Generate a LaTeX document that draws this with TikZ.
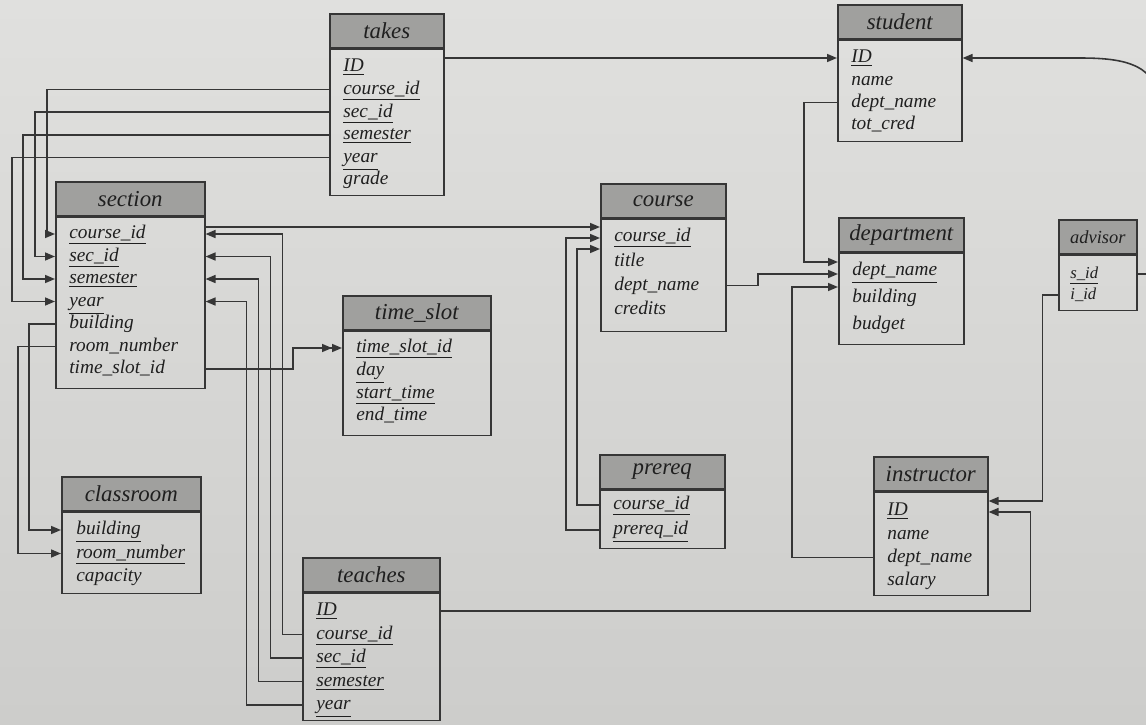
\documentclass[tikz,border=0pt]{standalone}
\usepackage{fontspec}
\setmainfont{Liberation Serif}
\usetikzlibrary{arrows.meta, calc}
\definecolor{linecol}{HTML}{363636}
\definecolor{headcol}{HTML}{A0A09E}
\definecolor{papertop}{HTML}{E0E0DE}
\definecolor{paperbot}{HTML}{CDCDCB}
\tikzset{
    tabtitle/.style={draw=linecol, fill=headcol, line width=0.9pt, anchor=north west, minimum height=0.68cm, inner sep=0pt, font=\fontsize{13}{15}\selectfont\itshape, text=black!88},
    tabbody/.style={draw=linecol, line width=0.9pt, anchor=north west, inner sep=0pt},
    field/.style={anchor=west, inner sep=0pt, text height=1.7ex, text depth=0.5ex, font=\fontsize{11}{13}\selectfont\itshape, text=black!88},
    fk/.style={draw=linecol, line width=0.9pt, -{Triangle[length=2mm, width=1.6mm]}},
    fkk/.style={draw=linecol, line width=0.9pt, -{Triangle[length=2mm, width=1.6mm] Triangle[length=2mm, width=1.6mm]}}
}

\begin{document}
\begin{tikzpicture}[x=0.02cm, y=-0.02cm]
    \shade[top color=papertop, bottom color=paperbot] (0,0) rectangle (1146,724);
    \clip (0,0) rectangle (1146,724);

    % takes
    \begin{scope}[shift={(329,13)}]
        \node[tabtitle, minimum width=2.28cm] (takes-t) at (0,0) {takes};
        \node[tabbody, minimum width=2.28cm, minimum height=2.92cm] (takes) at (takes-t.south west) {};
        \foreach \f/\k [count=\i] in {ID/1, course\_id/1, sec\_id/1, semester/1, year/1, grade/0}
            \node[field] (takes-\i) at (14, {54+(\i-1)*22.6}) {\ifnum\k=1 \underline{\f}\else\f\fi};
    \end{scope}

    % student
    \begin{scope}[shift={(837,4)}]
        \node[tabtitle, minimum width=2.48cm] (student-t) at (0,0) {student};
        \node[tabbody, minimum width=2.48cm, minimum height=2.02cm] (student) at (student-t.south west) {};
        \foreach \f/\k [count=\i] in {ID/1, name/0, dept\_name/0, tot\_cred/0}
            \node[field] (student-\i) at (14, {54+(\i-1)*22.3}) {\ifnum\k=1 \underline{\f}\else\f\fi};
    \end{scope}

    % section
    \begin{scope}[shift={(55,181)}]
        \node[tabtitle, minimum width=2.98cm] (section-t) at (0,0) {section};
        \node[tabbody, minimum width=2.98cm, minimum height=3.42cm] (section) at (section-t.south west) {};
        \foreach \f/\k [count=\i] in {course\_id/1, sec\_id/1, semester/1, year/1, building/0, room\_number/0, time\_slot\_id/0}
            \node[field] (section-\i) at (14, {53+(\i-1)*22.5}) {\ifnum\k=1 \underline{\f}\else\f\fi};
    \end{scope}

    % course
    \begin{scope}[shift={(600,183)}]
        \node[tabtitle, minimum width=2.5cm] (course-t) at (0,0) {course};
        \node[tabbody, minimum width=2.5cm, minimum height=2.24cm] (course) at (course-t.south west) {};
        \foreach \f/\k [count=\i] in {course\_id/1, title/0, dept\_name/0, credits/0}
            \node[field] (course-\i) at (14, {54+(\i-1)*24.3}) {\ifnum\k=1 \underline{\f}\else\f\fi};
    \end{scope}

    % department
    \begin{scope}[shift={(838,217)}]
        \node[tabtitle, minimum width=2.5cm] (department-t) at (0,0) {department};
        \node[tabbody, minimum width=2.5cm, minimum height=1.82cm] (department) at (department-t.south west) {};
        \foreach \f/\k [count=\i] in {dept\_name/1, building/0, budget/0}
            \node[field] (department-\i) at (14, {54+(\i-1)*27}) {\ifnum\k=1 \underline{\f}\else\f\fi};
    \end{scope}

    % advisor
    \begin{scope}[shift={(1058,219)}]
        \node[tabtitle, minimum width=1.56cm, font=\fontsize{10.5}{12}\selectfont\itshape] (advisor-t) at (0,0) {advisor};
        \node[tabbody, minimum width=1.56cm, minimum height=1.1cm] (advisor) at (advisor-t.south west) {};
        \foreach \f/\k [count=\i] in {s\_id/1, i\_id/0}
            \node[field, font=\fontsize{9.5}{11}\selectfont\itshape] (advisor-\i) at (12, {55+(\i-1)*21}) {\ifnum\k=1 \underline{\f}\else\f\fi};
    \end{scope}

    % time_slot
    \begin{scope}[shift={(342,295)}]
        \node[tabtitle, minimum width=2.96cm] (timeslot-t) at (0,0) {time\_slot};
        \node[tabbody, minimum width=2.96cm, minimum height=2.08cm] (timeslot) at (timeslot-t.south west) {};
        \foreach \f/\k [count=\i] in {time\_slot\_id/1, day/1, start\_time/1, end\_time/0}
            \node[field] (timeslot-\i) at (14, {53+(\i-1)*22.7}) {\ifnum\k=1 \underline{\f}\else\f\fi};
    \end{scope}

    % classroom
    \begin{scope}[shift={(61,476)}]
        \node[tabtitle, minimum width=2.78cm] (classroom-t) at (0,0) {classroom};
        \node[tabbody, minimum width=2.78cm, minimum height=1.62cm] (classroom) at (classroom-t.south west) {};
        \foreach \f/\k [count=\i] in {building/1, room\_number/1, capacity/0}
            \node[field] (classroom-\i) at (15, {54+(\i-1)*23.5}) {\ifnum\k=1 \underline{\f}\else\f\fi};
    \end{scope}

    % prereq
    \begin{scope}[shift={(599,454)}]
        \node[tabtitle, minimum width=2.5cm] (prereq-t) at (0,0) {prereq};
        \node[tabbody, minimum width=2.5cm, minimum height=1.16cm] (prereq) at (prereq-t.south west) {};
        \foreach \f/\k [count=\i] in {course\_id/1, prereq\_id/1}
            \node[field] (prereq-\i) at (14, {51+(\i-1)*25}) {\ifnum\k=1 \underline{\f}\else\f\fi};
    \end{scope}

    % instructor
    \begin{scope}[shift={(873,456)}]
        \node[tabtitle, minimum width=2.28cm] (instructor-t) at (0,0) {instructor};
        \node[tabbody, minimum width=2.28cm, minimum height=2.06cm] (instructor) at (instructor-t.south west) {};
        \foreach \f/\k [count=\i] in {ID/1, name/0, dept\_name/0, salary/0}
            \node[field] (instructor-\i) at (14, {55+(\i-1)*23.3}) {\ifnum\k=1 \underline{\f}\else\f\fi};
    \end{scope}

    % teaches
    \begin{scope}[shift={(302,557)}]
        \node[tabtitle, minimum width=2.74cm] (teaches-t) at (0,0) {teaches};
        \node[tabbody, minimum width=2.74cm, minimum height=2.54cm] (teaches) at (teaches-t.south west) {};
        \foreach \f/\k [count=\i] in {ID/1, course\_id/1, sec\_id/1, semester/1, year/1}
            \node[field] (teaches-\i) at (14, {54+(\i-1)*23.5}) {\ifnum\k=1 \underline{\f}\else\f\fi};
    \end{scope}

    % takes -> student, section
    \draw[fk] (takes.east |- student-1) -- (student-1 -| student.west);
    \foreach \s/\t/\d in {2/1/8, 3/2/20, 4/3/32, 5/4/43}
        \draw[fk] (takes-\s -| takes.west) -| ($(section.west |- section-\t)+(-\d,0)$) -- (section-\t -| section.west);

    % section -> classroom, time_slot, course
    \foreach \s/\t/\d in {5/1/26, 6/2/37}
        \draw[fk] (section-\s -| section.west) -| ($(section.west |- classroom-\t)+(-\d,0)$) -- (classroom-\t -| classroom.west);
    \draw[fkk] (section-7 -| section.east) -| ($(timeslot.west |- timeslot-1)+(-49,0)$) -- (timeslot-1 -| timeslot.west);
    \draw[fk] ($(section.east |- course-1)+(0,-10)$) -- ($(course-1 -| course.west)+(0,-10)$);

    % teaches -> section, instructor
    \foreach \s/\t/\d in {2/1/77, 3/2/65, 4/3/53, 5/4/41}
        \draw[fk] (teaches-\s -| teaches.west) -| ($(section.east |- section-\t)+(\d,0)$) -- (section-\t -| section.east);
    \draw[fk] (teaches-1 -| teaches.east) -| ($(instructor.east |- instructor-1)+(42,1)$) -- ($(instructor-1 -| instructor.east)+(0,1)$);

    % prereq -> course
    \draw[fk] (prereq-1 -| prereq.west) -| ($(course.west |- course-1)+(-23,12)$) -- ($(course-1 -| course.west)+(0,12)$);
    \draw[fk] (prereq-2 -| prereq.west) -| ($(course.west |- course-1)+(-34,1)$) -- ($(course-1 -| course.west)+(0,1)$);

    % dept_name -> department
    \draw[fk] (student-3 -| student.west) -| ($(department.west |- department-1)+(-34,-9)$) -- ($(department-1 -| department.west)+(0,-9)$);
    \draw[fk] (course-3 -| course.east) -| ($(department.west |- department-1)+(-80,3)$) -- ($(department-1 -| department.west)+(0,3)$);
    \draw[fk] (instructor-3 -| instructor.west) -| ($(department.west |- department-1)+(-46,16)$) -- ($(department-1 -| department.west)+(0,16)$);

    % advisor -> instructor, student
    \draw[fk] (advisor-2 -| advisor.west) -| ($(instructor.east |- instructor-1)+(54,-10)$) -- ($(instructor-1 -| instructor.east)+(0,-10)$);
    \draw[fk] (advisor-1 -| advisor.east) -- ++(24,0) -- (1160,110) .. controls (1160,64) and (1125,58) .. (1080,58) -- (student-1 -| student.east);
\end{tikzpicture}
\end{document}
